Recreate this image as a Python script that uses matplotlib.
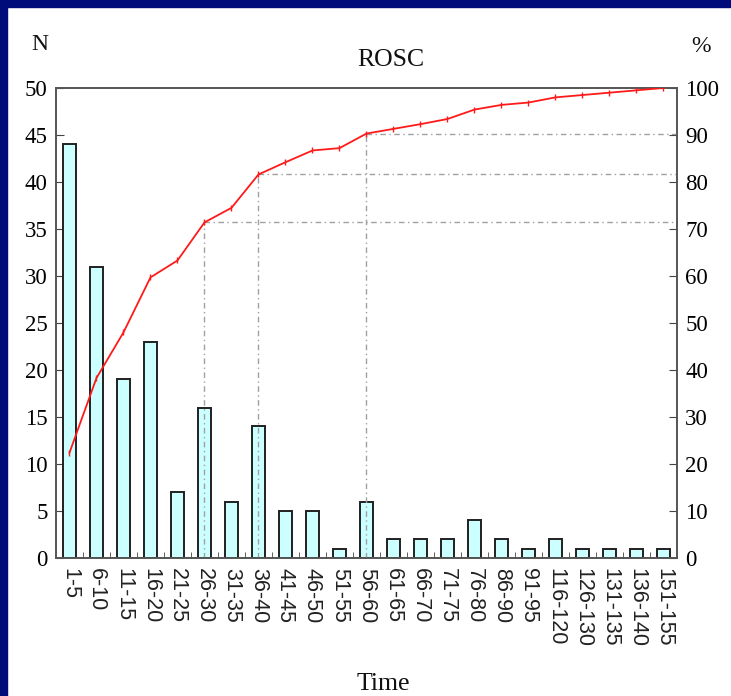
import matplotlib
matplotlib.use("Agg")
import matplotlib.pyplot as plt
import numpy as np
from matplotlib.patches import Rectangle

# ---------------------------------------------------------------------------
# Данные
# ---------------------------------------------------------------------------
categories = ["1-5", "6-10", "11-15", "16-20", "21-25", "26-30", "31-35",
              "36-40", "41-45", "46-50", "51-55", "56-60", "61-65", "66-70",
              "71-75", "76-80", "86-90", "91-95", "116-120", "126-130",
              "131-135", "136-140", "151-155"]
counts = [44, 31, 19, 23, 7, 16, 6, 14, 5, 5, 1, 6, 2, 2, 2, 4, 2, 1, 2, 1,
          1, 1, 1]
cum_pct = [22.4, 38.3, 48.0, 59.7, 63.3, 71.4, 74.5, 81.6, 84.2, 86.7, 87.2,
           90.3, 91.3, 92.3, 93.4, 95.4, 96.4, 96.9, 98.0, 98.5, 99.0, 99.5,
           100.0]
ref_idx = [5, 7, 11]  # 26-30, 36-40, 56-60

SERIF = "Liberation Serif"
SANS = "Liberation Sans"

fig = plt.figure(figsize=(7.31, 6.96), dpi=100)
fig.patch.set_facecolor("white")
# тёмно-синяя рамка сверху и слева
fig.patches.append(Rectangle((0, 0.99), 1, 0.01, transform=fig.transFigure,
                             color="#000c7a", zorder=-1))
fig.patches.append(Rectangle((0, 0), 0.0095, 1, transform=fig.transFigure,
                             color="#000c7a", zorder=-1))

ax = fig.add_axes([0.0766, 0.1983, 0.8495, 0.6753])
ax2 = ax.twinx()

x = np.arange(len(categories))
ax.bar(x, counts, width=0.48, color="#ccffff", edgecolor="#202020",
       linewidth=1.4, zorder=2)
ax.set_xlim(-0.5, len(categories) - 0.5)
ax.set_ylim(0, 50)
ax.set_yticks(range(0, 51, 5))
ax.set_xticks(x)
ax.set_xticklabels(categories, rotation=-90, family=SANS, fontsize=15.5,
                   color="#222222")
ax.set_xticks(x[:-1] + 0.5, minor=True)
ax.tick_params(axis="x", which="major", length=0, pad=7)
ax.tick_params(axis="x", which="minor", direction="in", length=4,
               color="#444444")
ax.tick_params(axis="y", direction="in", length=6, color="#444444",
               labelsize=16.5, pad=6)
for lab in ax.get_yticklabels():
    lab.set_family(SERIF)

ax2.plot(x, cum_pct, color="#ff1a1a", linewidth=1.3, marker="|",
         markersize=4, zorder=3)
ax2.set_ylim(0, 100)
ax2.set_yticks(range(0, 101, 10))
ax2.tick_params(axis="y", direction="in", length=6, color="#444444",
                labelsize=16.5, pad=6)
for lab in ax2.get_yticklabels():
    lab.set_family(SERIF)

# опорные штрих-пунктирные линии
for i in ref_idx:
    ax2.plot([x[i], x[i]], [0, cum_pct[i]], color="#a0a0a0",
             linestyle=(0, (4, 2.5, 1, 2.5)), linewidth=1, zorder=1)
    ax2.plot([x[i], len(categories) - 0.5], [cum_pct[i], cum_pct[i]],
             color="#a0a0a0", linestyle=(0, (4, 2.5, 1, 2.5)), linewidth=1,
             zorder=1)

for a in (ax, ax2):
    for s in a.spines.values():
        s.set_color("#555555")
        s.set_linewidth(1.2)

fig.text(391 / 731, 1 - 60 / 696, "ROSC", ha="center", va="center",
         family=SERIF, fontsize=18.5, color="#111111")
fig.text(40 / 731, 1 - 45 / 696, "N", ha="center", va="center",
         family=SERIF, fontsize=17, color="#111111")
fig.text(701 / 731, 1 - 46 / 696, "%", ha="center", va="center",
         family=SERIF, fontsize=17, color="#111111")
fig.text(383 / 731, 1 - 684 / 696, "Time", ha="center", va="center",
         family=SERIF, fontsize=18.5, color="#111111")

fig.savefig("out.png", dpi=100)
